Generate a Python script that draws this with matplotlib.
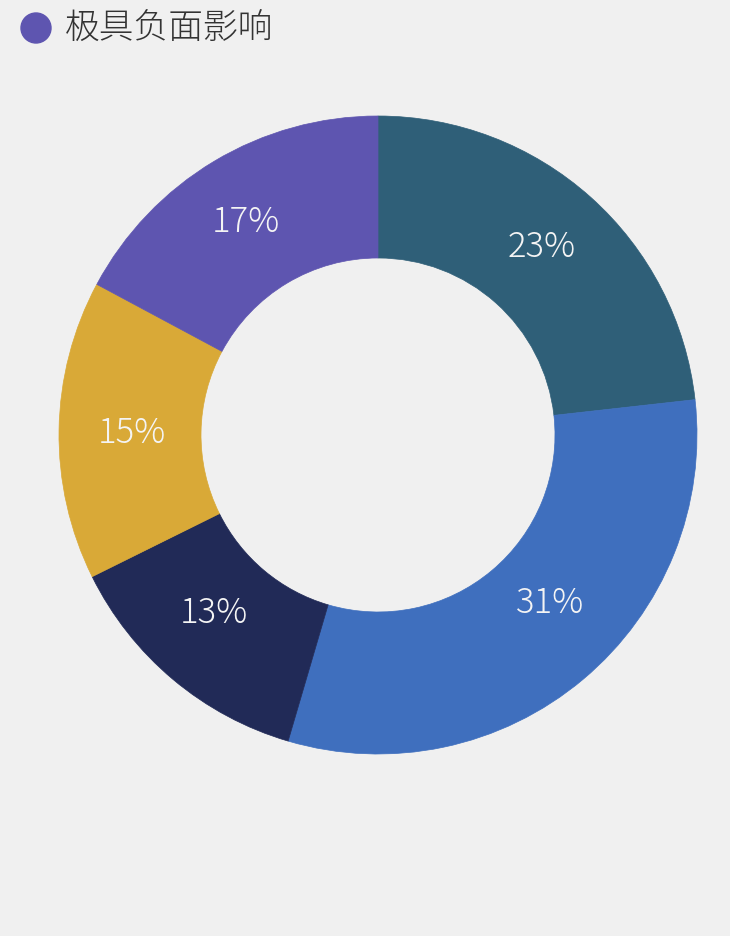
import matplotlib.pyplot as plt
from matplotlib.patches import Circle

plt.rcParams['font.family'] = ['Noto Sans CJK JP', 'DejaVu Sans']

# slice values (percent), clockwise from 12 o'clock
values = [23, 31, 13, 15, 17]
colors = ['#2f5f78', '#3f6fbe', '#212a57', '#d9a937', '#5e55b0']
legend_label = '极具负面影响'   # only the last series is visible in the legend
legend_color = colors[4]
# small nudges (px) so the labels sit where the original put them
label_nudge = [(-2, 3), (13, 22), (-5, 12), (2, -2), (-5, 0)]

W, H = 730, 936
fig = plt.figure(figsize=(W / 100, H / 100), dpi=100, facecolor='#f0f0f0')

# donut: centre (378, 435) px, outer radius 319 px
cx, cy, r = 378, 435, 319
ax = fig.add_axes([(cx - r) / W, (H - cy - r) / H, 2 * r / W, 2 * r / H])
ax.set_facecolor('#f0f0f0')

inner = 177 / 319
wedges, texts, autotexts = ax.pie(
    values,
    colors=colors,
    startangle=90,
    counterclock=False,
    radius=1,
    autopct='%d%%',
    pctdistance=(1 + inner) / 2,
    wedgeprops=dict(width=1 - inner, linewidth=0),
    textprops=dict(color='#f4f4f4', fontsize=25, fontweight=300),
)
for w, c in zip(wedges, colors):
    w.set_edgecolor(c)
    w.set_linewidth(0.5)
for t, v, (dx, dy) in zip(autotexts, values, label_nudge):
    t.set_text(f'{v}%')
    x, y = t.get_position()
    t.set_position((x + dx / r, y + dy / r))

ax.set_xlim(-1, 1)
ax.set_ylim(-1, 1)
ax.set_aspect('auto')
ax.axis('off')

# legend (single visible entry)
fig.patches.append(Circle((36, H - 28), 15, transform=None, color=legend_color))
fig.text(65 / W, 1 - 28 / H, legend_label, fontsize=25, fontweight=300,
         color='#333333', va='center', ha='left')

fig.savefig('out.png', dpi=100, facecolor=fig.get_facecolor())
